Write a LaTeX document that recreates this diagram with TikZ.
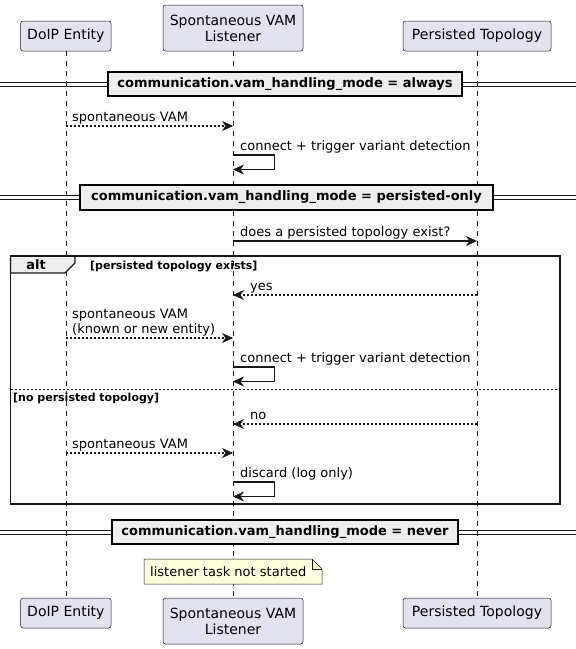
\documentclass[tikz,border=0pt]{standalone}
\usepackage{fontspec}
\setmainfont{DejaVu Sans}
\usetikzlibrary{arrows.meta}
\definecolor{partfill}{HTML}{E2E2F0}
\definecolor{lineclr}{HTML}{181818}
\definecolor{divfill}{HTML}{EEEEEE}
\definecolor{notefill}{HTML}{FEFFDD}
\begin{document}
\begin{tikzpicture}[x=1pt,y=-1pt,
  part/.style={draw=lineclr, line width=0.5pt, fill=partfill, rounded corners=2.5pt, align=center, font=\fontsize{14}{16}\selectfont, inner sep=0pt},
  life/.style={draw=lineclr, line width=0.5pt, dash pattern=on 5pt off 5pt},
  msg/.style={draw=lineclr, line width=1.4pt, -{Stealth[length=11pt,width=10pt,inset=3.5pt,line width=0.6pt,fill=lineclr]}},
  ret/.style={msg, dash pattern=on 2pt off 2pt},
  lbl/.style={font=\fontsize{13}{15}\selectfont, anchor=base west, inner sep=0pt, text=black},
  divbox/.style={draw=black, line width=1.5pt, fill=divfill, font=\bfseries\fontsize{13}{15}\selectfont, inner sep=0pt},
  dline/.style={draw=lineclr, line width=1pt},
  condlbl/.style={font=\bfseries\fontsize{11}{13}\selectfont, anchor=base west, inner sep=0pt},
]
\useasboundingbox (0,0) rectangle (576,649);

% divider double lines (under the lifelines)
\coordinate (d1l) at (0,84); \coordinate (d1r) at (576,84);
\draw[dline] ([yshift=-2pt]d1l) -- ([yshift=-2pt]d1r);
\draw[dline] ([yshift=2pt]d1l) -- ([yshift=2pt]d1r);
\coordinate (d2l) at (0,197.5); \coordinate (d2r) at (576,197.5);
\draw[dline] ([yshift=-2pt]d2l) -- ([yshift=-2pt]d2r);
\draw[dline] ([yshift=2pt]d2l) -- ([yshift=2pt]d2r);
\coordinate (d3l) at (0,532); \coordinate (d3r) at (576,532);
\draw[dline] ([yshift=-2pt]d3l) -- ([yshift=-2pt]d3r);
\draw[dline] ([yshift=2pt]d3l) -- ([yshift=2pt]d3r);

% participants
\node[part, minimum width=90.3pt, minimum height=30pt] (doipT) at (65.85,36) {DoIP Entity};
\node[part, minimum width=140pt, minimum height=46pt] (lisT) at (233,28) {Spontaneous VAM\\Listener};
\node[part, minimum width=148pt, minimum height=30pt] (perT) at (477,36) {Persisted Topology};
\node[part, minimum width=90.3pt, minimum height=30pt] (doipB) at (65.85,613) {DoIP Entity};
\node[part, minimum width=140pt, minimum height=46pt] (lisB) at (233,621) {Spontaneous VAM\\Listener};
\node[part, minimum width=148pt, minimum height=30pt] (perB) at (477,613) {Persisted Topology};

% lifelines
\draw[life] (doipT.south) -- (doipB.north);
\draw[life] (lisT.south) -- (lisB.north);
\draw[life] (perT.south) -- (perB.north);

% divider 1
\node[divbox, minimum width=354pt, minimum height=24pt] (div1) at (285,84) {communication.vam\_handling\_mode = always};

% message 1
\coordinate (m1a) at (65.85,126); \coordinate (m1b) at (233,126);
\draw[ret] (m1a) -- (m1b);
\node[lbl] (m1t) at (72,121) {spontaneous VAM};

% self 1
\coordinate (s1a) at (233,155); \coordinate (s1b) at (233,169.5);
\draw[msg] (s1a) -- ++(41.5,0) -- ++(0,14.5) -- (s1b);
\node[lbl] (s1t) at (240,150) {connect + trigger variant detection};

% divider 2
\node[divbox, minimum width=413pt, minimum height=25pt] (div2) at (286.5,197.5) {communication.vam\_handling\_mode = persisted-only};

% message 3
\coordinate (m3a) at (233,241); \coordinate (m3b) at (477,241);
\draw[msg] (m3a) -- (m3b);
\node[lbl] (m3t) at (240,236) {does a persisted topology exist?};

% alt frame
\filldraw[fill=divfill, draw=lineclr, line width=1.2pt] (10.5,256) -- (75,256) -- (75,263) -- (65,273) -- (10.5,273) -- cycle;
\node[draw=lineclr, line width=1.5pt, minimum width=549.5pt, minimum height=248pt, inner sep=0pt] (altf) at (285.25,380) {};
\node[font=\bfseries\fontsize{13}{15}\selectfont, anchor=base, inner sep=0pt] (altt) at (36,269) {alt};
\node[condlbl] (c1) at (90,269) {[persisted topology exists]};

% yes
\coordinate (ya) at (477,295); \coordinate (yb) at (233,295);
\draw[ret] (ya) -- (yb);
\node[lbl] (yt) at (250,290) {yes};

% message 6
\coordinate (m6a) at (65.85,338); \coordinate (m6b) at (233,338);
\draw[ret] (m6a) -- (m6b);
\node[lbl] (m6t1) at (72,318) {spontaneous VAM};
\node[lbl] (m6t2) at (72,333) {(known or new entity)};

% self 2
\coordinate (s2a) at (233,367); \coordinate (s2b) at (233,381.5);
\draw[msg] (s2a) -- ++(41.5,0) -- ++(0,14.5) -- (s2b);
\node[lbl] (s2t) at (240,362) {connect + trigger variant detection};

% else
\coordinate (ea) at (10.5,389); \coordinate (eb) at (560,389);
\draw[draw=lineclr, line width=0.8pt, dash pattern=on 2pt off 2pt] (ea) -- (eb);
\node[condlbl] (c2) at (13,401) {[no persisted topology]};

% no
\coordinate (na) at (477,424); \coordinate (nb) at (233,424);
\draw[ret] (na) -- (nb);
\node[lbl] (nt) at (250,419) {no};

% message 10
\coordinate (m10a) at (65.85,453); \coordinate (m10b) at (233,453);
\draw[ret] (m10a) -- (m10b);
\node[lbl] (m10t) at (72,448) {spontaneous VAM};

% self 3
\coordinate (s3a) at (233,482); \coordinate (s3b) at (233,496.5);
\draw[msg] (s3a) -- ++(41.5,0) -- ++(0,14.5) -- (s3b);
\node[lbl] (s3t) at (240,477) {discard (log only)};

% divider 3
\node[divbox, minimum width=346pt, minimum height=24pt] (div3) at (285,532) {communication.vam\_handling\_mode = never};

% note
\filldraw[fill=notefill, draw=lineclr, line width=0.5pt] (144,559) -- (312,559) -- (322,569) -- (322,584) -- (144,584) -- cycle;
\draw[draw=lineclr, line width=0.5pt] (312,559) -- (312,569) -- (322,569);
\node[lbl] (notet) at (150,576) {listener task not started};
\end{tikzpicture}
\end{document}
